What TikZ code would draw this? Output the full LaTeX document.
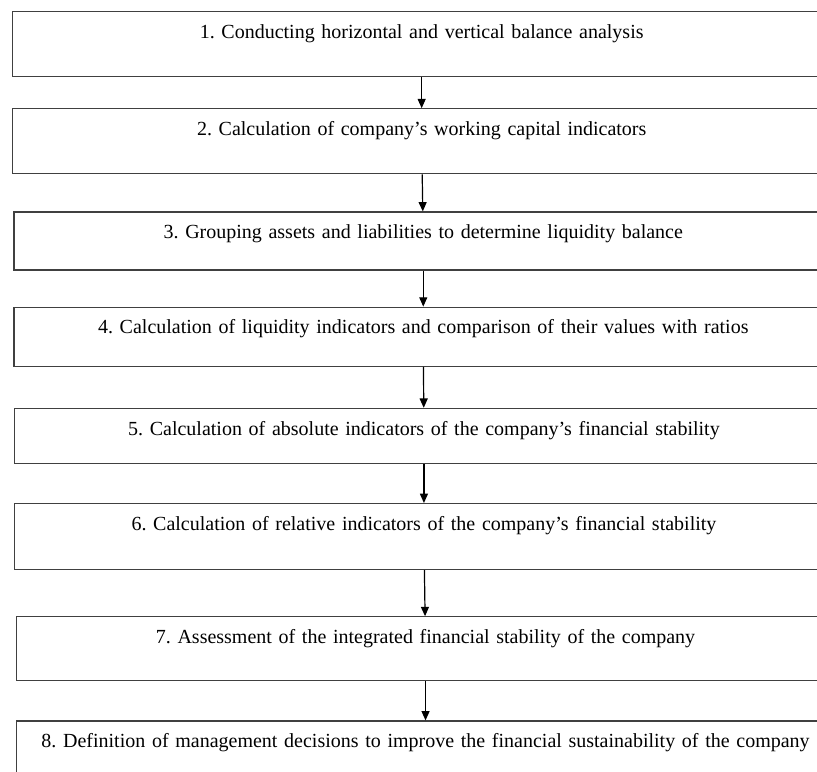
\documentclass[tikz,border=0pt]{standalone}
\usepackage{fontspec}
\setmainfont{Liberation Serif}
\usetikzlibrary{positioning,arrows.meta}
\tikzset{
    stepbox/.style={rectangle, draw=black!75, line width=0.9pt, inner sep=0pt,
        text width=614pt, align=center, text height=20pt,
        font=\fontsize{15}{17}\selectfont\frenchspacing},
    flow/.style={-{Triangle[length=7pt,width=6pt]}, line width=0.9pt}
}

\begin{document}
\begin{tikzpicture}[]
    \useasboundingbox (0,0) rectangle (612.75pt,-578.25pt);
    \node[stepbox, anchor=north west, text depth=28.75pt] (s1) at (8.8pt,-8.25pt)
        {1. Conducting horizontal and vertical balance analysis};
    \node[stepbox, below=23.25pt of s1, text depth=28.75pt] (s2)
        {2. Calculation of company's working capital indicators};
    \node[stepbox, below=27.75pt of s2, xshift=1.2pt, text depth=23.5pt] (s3)
        {3. Grouping assets and liabilities to determine liquidity balance};
    \node[stepbox, below=27pt of s3, text depth=24.25pt] (s4)
        {4. Calculation of liquidity indicators and comparison of their values with ratios};
    \node[stepbox, below=30.75pt of s4, xshift=0.5pt, text depth=21.25pt] (s5)
        {5. Calculation of absolute indicators of the company's financial stability};
    \node[stepbox, below=29.25pt of s5, text depth=29.5pt] (s6)
        {6. Calculation of relative indicators of the company's financial stability};
    \node[stepbox, below=34.5pt of s6, xshift=1.2pt, text depth=28pt] (s7)
        {7. Assessment of the integrated financial stability of the company};
    \node[stepbox, below=29.25pt of s7, text depth=50pt] (s8)
        {8. Definition of management decisions to improve the financial sustainability of the company};
    \draw[flow] (s1) -- (s2);
    \draw[flow] (s2) -- (s3);
    \draw[flow] (s3) -- (s4);
    \draw[flow] (s4) -- (s5);
    \draw[flow] (s5) -- (s6);
    \draw[flow] (s6) -- (s7);
    \draw[flow] (s7) -- (s8);
\end{tikzpicture}
\end{document}
